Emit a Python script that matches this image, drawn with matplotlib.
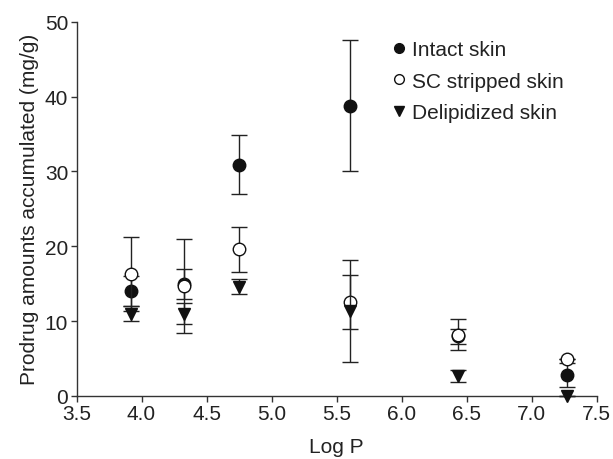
import matplotlib.pyplot as plt
from matplotlib.lines import Line2D

plt.rcParams['font.family'] = ['Liberation Sans', 'DejaVu Sans']

# Log P of the prodrugs
log_p = [3.92, 4.33, 4.75, 5.6, 6.43, 7.27]

# amounts (mg/g) and error (SD)
intact = [14.0, 15.0, 30.9, 38.8, 8.0, 2.85]
intact_err = [2.0, 2.0, 3.9, 8.7, 1.0, 1.6]
stripped = [16.3, 14.7, 19.6, 12.6, 8.2, 5.0]
stripped_err = [5.0, 6.3, 3.0, 3.6, 2.1, 0.0]
delip = [11.0, 11.0, 14.6, 11.4, 2.7, 0.0]
delip_err = [1.0, 1.4, 1.0, 6.8, 0.8, 0.0]

fig = plt.figure(figsize=(6.13, 4.6), dpi=100)
ax = fig.add_axes([0.1248, 0.137, 0.8486, 0.8137])

ebkw = dict(ecolor='#222222', elinewidth=1.0, capsize=5.5, capthick=1.0, markersize=9)
ax.errorbar(log_p, intact, yerr=intact_err, fmt='o', color='#111111', zorder=2, **ebkw)
ax.errorbar(log_p, stripped, yerr=stripped_err, fmt='o', mfc='white', mec='#111111',
            mew=1.0, zorder=3, **ebkw)
ax.errorbar(log_p, delip, yerr=delip_err, fmt='v', color='#111111', zorder=4,
            clip_on=False, **ebkw)

ax.set_xlim(3.5, 7.5)
ax.set_ylim(0, 50)
ax.set_xticks([3.5, 4.0, 4.5, 5.0, 5.5, 6.0, 6.5, 7.0, 7.5])
ax.set_yticks([0, 10, 20, 30, 40, 50])
ax.spines['top'].set_visible(False)
ax.spines['right'].set_visible(False)
for s in ['left', 'bottom']:
    ax.spines[s].set_color('#333333')
    ax.spines[s].set_linewidth(1.0)
ax.tick_params(direction='out', length=4, width=1.0, color='#333333',
               labelsize=15, labelcolor='#222222', pad=2)
ax.set_xlabel('Log P', fontsize=15, color='#222222', labelpad=10)
ax.set_ylabel('Prodrug amounts accumulated (mg/g)', fontsize=15, color='#222222', labelpad=4)

handles = [
    Line2D([], [], ls='none', marker='o', color='#111111', markersize=7),
    Line2D([], [], ls='none', marker='o', mfc='white', mec='#111111', markersize=7),
    Line2D([], [], ls='none', marker='v', color='#111111', markersize=7),
]
ax.legend(handles, ['Intact skin', 'SC stripped skin', 'Delipidized skin'],
          loc='upper left', bbox_to_anchor=(0.583, 0.984), frameon=False,
          fontsize=15, handlelength=0.6, handletextpad=0.35, labelspacing=0.6,
          borderaxespad=0.2, labelcolor='#222222')

fig.savefig('out.png', dpi=100)
